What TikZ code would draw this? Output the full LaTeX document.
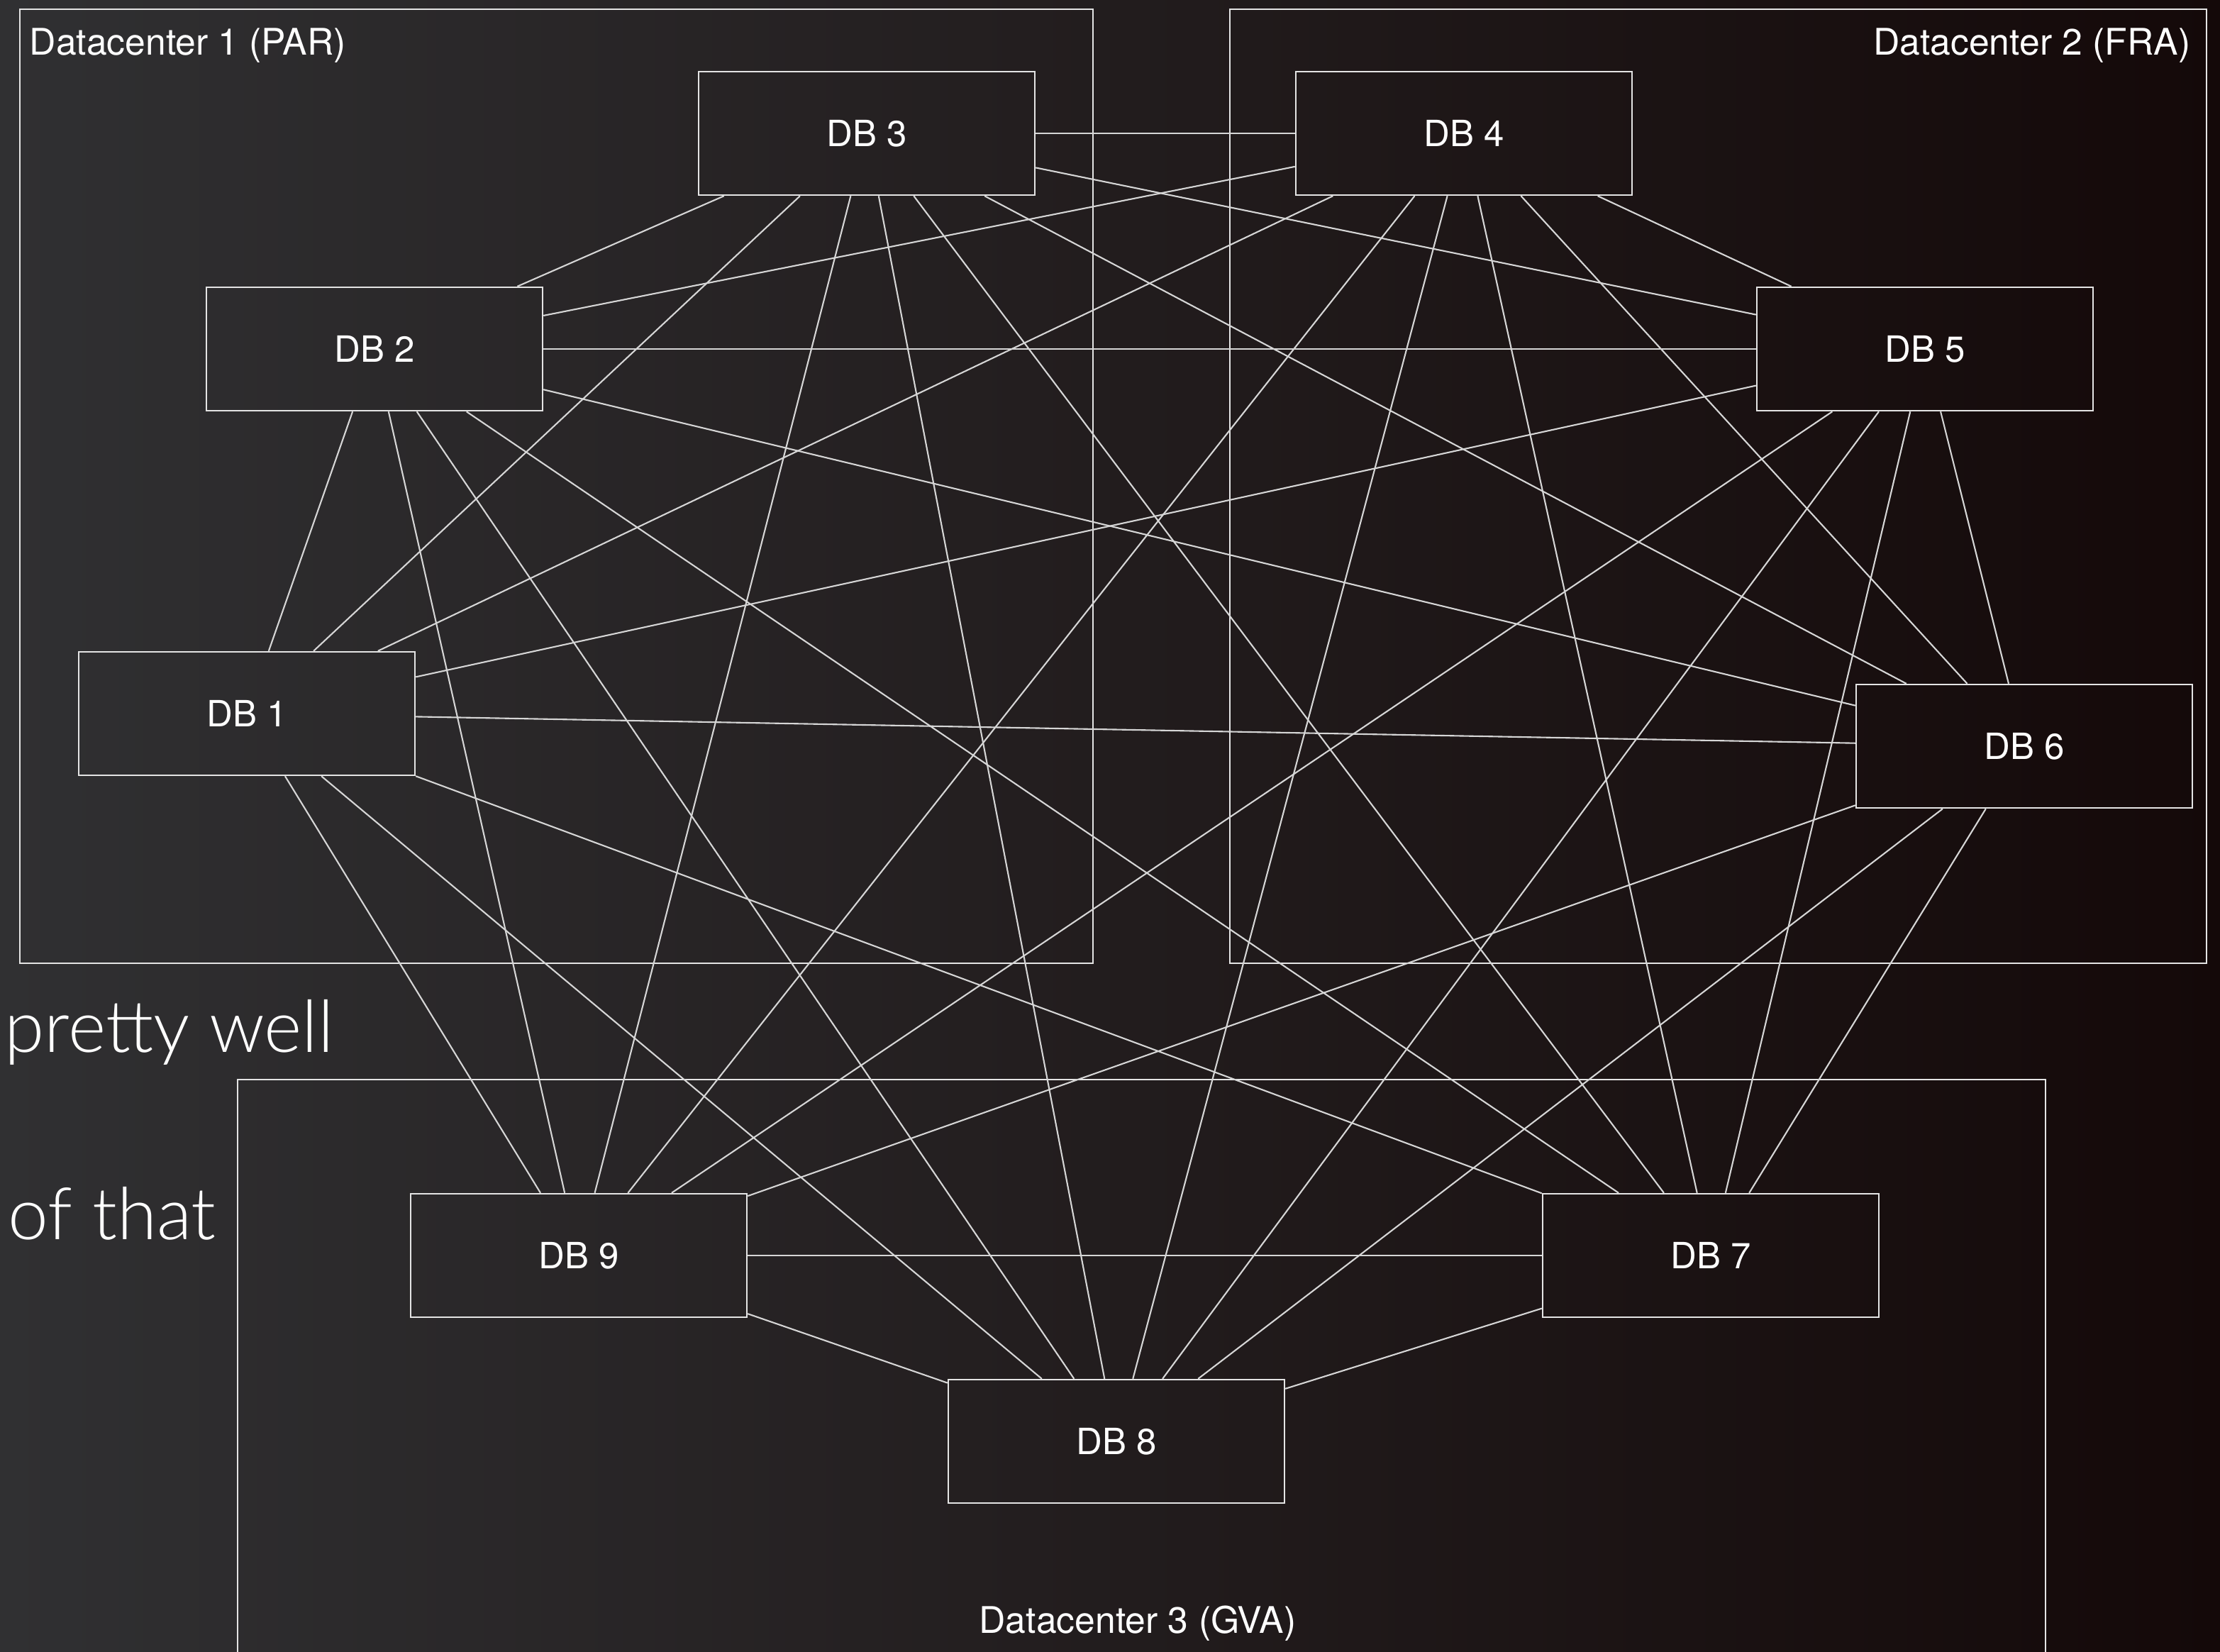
\documentclass[tikz,border=0pt]{standalone}
\usepackage{fontspec}
\setmainfont{TeX Gyre Heros}
\newfontfamily\slidefont{Lato Light}
\definecolor{bgl}{HTML}{303032}
\definecolor{bgr}{HTML}{140909}
\definecolor{wire}{HTML}{D6D6D6}
\definecolor{frm}{HTML}{E4E4E4}
\tikzset{
  dbbox/.style={draw=frm, line width=0.7pt, minimum width=47.4mm, minimum height=17.4mm, text=white, font=\fontsize{14.5}{17}\selectfont},
  dcframe/.style={draw=frm, line width=0.7pt},
  dclbl/.style={inner sep=0pt, text=white, font=\fontsize{14.7}{17}\selectfont},
  slide/.style={inner sep=0pt, text=white, font=\slidefont\fontsize{29}{34}\selectfont},
  mesh/.style={draw=wire, line width=0.6pt}}

\begin{document}
\begin{tikzpicture}
\useasboundingbox (0,0) rectangle (31.3,-23.28);
\clip (0,0) rectangle (31.3,-23.28);
\shade[left color=bgl, right color=bgr] (0,0) rectangle (31.3,-23.28);
% datacenters
\draw[dcframe] (0.28,-0.13) rectangle (15.41,-13.58);
\draw[dcframe] (17.34,-0.13) rectangle (31.11,-13.58);
\draw[dcframe] (3.35,-15.22) rectangle (28.84,-23.6);
\node[dclbl, anchor=base west] (dc1) at (0.41,-0.77) {Datacenter 1 (PAR)};
\node[dclbl, anchor=base east] (dc2) at (30.89,-0.77) {Datacenter 2 (FRA)};
\node[dclbl, anchor=base] (dc3) at (16.04,-23.02) {Datacenter 3 (GVA)};
% slide text behind
\node[slide, anchor=base west] (t1) at (0.06,-14.83) {pretty well};
\node[slide, anchor=base west] (t2) at (0.11,-17.47) {of that};
% databases
\foreach \n/\x/\y in {1/3.48/-10.06, 2/5.28/-4.92, 3/12.22/-1.88, 4/20.64/-1.88, 5/27.14/-4.92, 6/28.54/-10.52, 7/24.12/-17.70, 8/15.74/-20.32, 9/8.16/-17.70}
  \node[dbbox] (db\n) at (\x,\y) {DB \n};
% full mesh
\foreach \i in {1,...,8} {
  \pgfmathtruncatemacro\k{\i+1}
  \foreach \j in {\k,...,9}
    \draw[mesh] (db\i) -- (db\j);}
\end{tikzpicture}
\end{document}
